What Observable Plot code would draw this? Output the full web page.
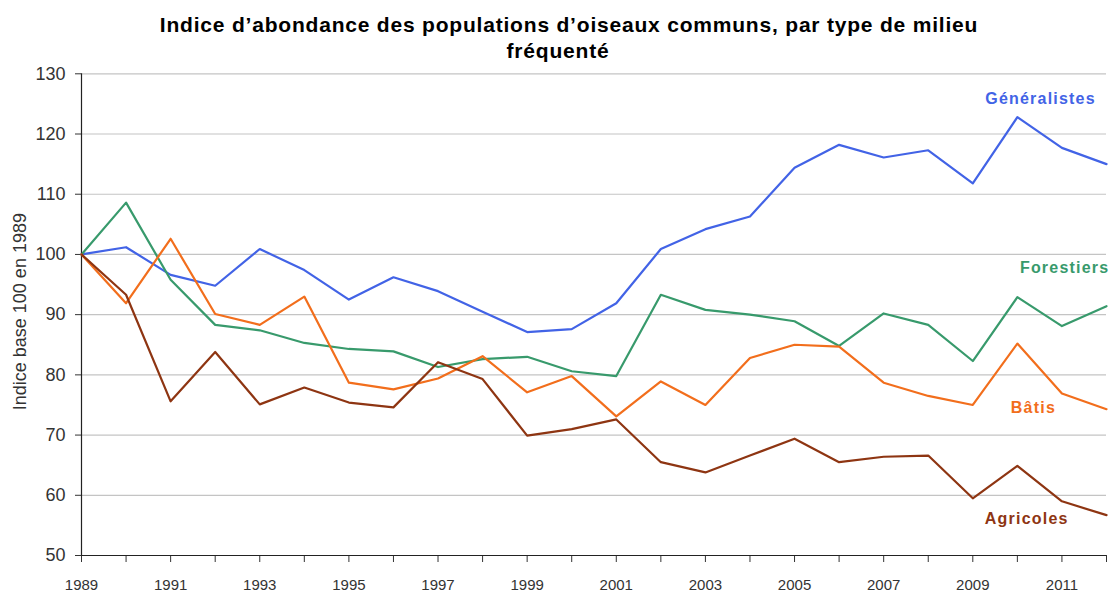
<!DOCTYPE html>
<html>
<head>
<meta charset="utf-8">
<script src="https://cdn.jsdelivr.net/npm/d3@7"></script>
<script src="https://cdn.jsdelivr.net/npm/@observablehq/plot@0.6"></script>
<style>
  body { margin: 0; background: #fff; }
  #title {
    height: 62px; box-sizing: border-box; padding-top: 11.5px;
    font-family: "Liberation Sans", Arial, sans-serif; font-weight: bold;
    font-size: 21px; line-height: 26px; text-align: center;
    letter-spacing: 0.8px; color: #000;
  }
  #chart svg { display: block; }
</style>
</head>
<body>
<div id="title">
  <div style="position:relative;left:11px">Indice d’abondance des populations d’oiseaux communs, par type de milieu</div>
  <div>fréquenté</div>
</div>
<div id="chart"></div>
<script>
// ---- data ----
const years = [1989,1990,1991,1992,1993,1994,1995,1996,1997,1998,1999,2000,2001,2002,2003,2004,2005,2006,2007,2008,2009,2010,2011,2012];
const labeledYears = [1989,1991,1993,1995,1997,1999,2001,2003,2005,2007,2009,2011];
const yTicks = [50,60,70,80,90,100,110,120,130];

const seriesNames = ["Généralistes","Forestiers","Bâtis","Agricoles"];
const seriesColors = ["#4263e6","#389a6c","#f26e1c","#8e3512"];

const generalistes = [100,101.2,96.6,94.8,100.9,97.4,92.5,96.2,93.9,90.5,87.1,87.6,91.9,100.9,104.2,106.3,114.4,118.2,116.1,117.3,111.8,122.8,117.7,115.0];
const forestiers   = [100,108.6,95.8,88.3,87.4,85.3,84.3,83.9,81.3,82.6,83.0,80.6,79.8,93.3,90.8,90.0,88.9,84.8,90.2,88.3,82.3,92.9,88.1,91.4];
const batis        = [100,91.9,102.6,90.1,88.3,93.0,78.7,77.6,79.4,83.1,77.1,79.8,73.1,78.9,75.0,82.8,85.0,84.7,78.7,76.5,75.0,85.2,76.9,74.3];
const agricoles    = [100,93.3,75.6,83.8,75.1,77.9,75.4,74.6,82.1,79.3,69.9,71.0,72.6,65.5,63.8,66.6,69.4,65.5,66.4,66.6,59.5,64.9,59.0,56.7];

// label anchor positions (data units)
const labelX = [2010.52, 2011.06, 2010.36, 2010.21];
const labelY = [125.9, 97.7, 74.55, 56.1];

const yLabel = "Indice base 100 en 1989";

// ---- build tidy table ----
const valuesBySeries = [generalistes, forestiers, batis, agricoles];
const data = [];
seriesNames.forEach((name, s) => {
  years.forEach((yr, i) => data.push({series: name, year: yr, value: valuesBySeries[s][i]}));
});
const labels = seriesNames.map((name, s) => ({series: name, x: labelX[s], y: labelY[s]}));

const chart = Plot.plot({
  width: 1116,
  height: 531,
  marginTop: 11.3,
  marginBottom: 38,
  marginLeft: 81,
  marginRight: 10,
  x: {type: "linear", domain: [1989, 2012]},
  y: {domain: [50, 130]},
  color: {domain: seriesNames, range: seriesColors},
  style: {fontFamily: "'Liberation Sans', Arial, sans-serif", background: "#fff", color: "#333"},
  marks: [
    Plot.gridY(yTicks, {stroke: "#c4c4c4", strokeOpacity: 1, strokeWidth: 1.2}),
    Plot.axisX(years, {
      tickSize: 7, tickPadding: 17, fontSize: 15, label: null, stroke: "#333",
      tickFormat: d => labeledYears.includes(d) ? String(d) : ""
    }),
    Plot.axisY(yTicks, {tickSize: 6, tickPadding: 10, fontSize: 18, label: null, stroke: "#333"}),
    Plot.ruleY([50], {stroke: "#222", strokeWidth: 1.2}),
    Plot.ruleX([1989], {stroke: "#222", strokeWidth: 1.2}),
    Plot.line(data, {x: "year", y: "value", z: "series", stroke: "series", strokeWidth: 2.2}),
    Plot.text(labels, {x: "x", y: "y", text: "series", fill: "series", fontSize: 16, fontWeight: "bold"}),
    Plot.text([yLabel], {frameAnchor: "left", textAnchor: "middle", rotate: -90, dx: -61, dy: -3, fontSize: 18, fill: "#333"})
  ]
});

const svg = d3.select(chart);
svg.selectAll("text").each(function() {
  const t = this.textContent;
  if (seriesNames.includes(t)) d3.select(this).style("letter-spacing", "1.2px");
  if (labeledYears.map(String).includes(t)) d3.select(this).style("font-size", "15px");
});
document.getElementById("chart").appendChild(chart);
</script>
</body>
</html>
